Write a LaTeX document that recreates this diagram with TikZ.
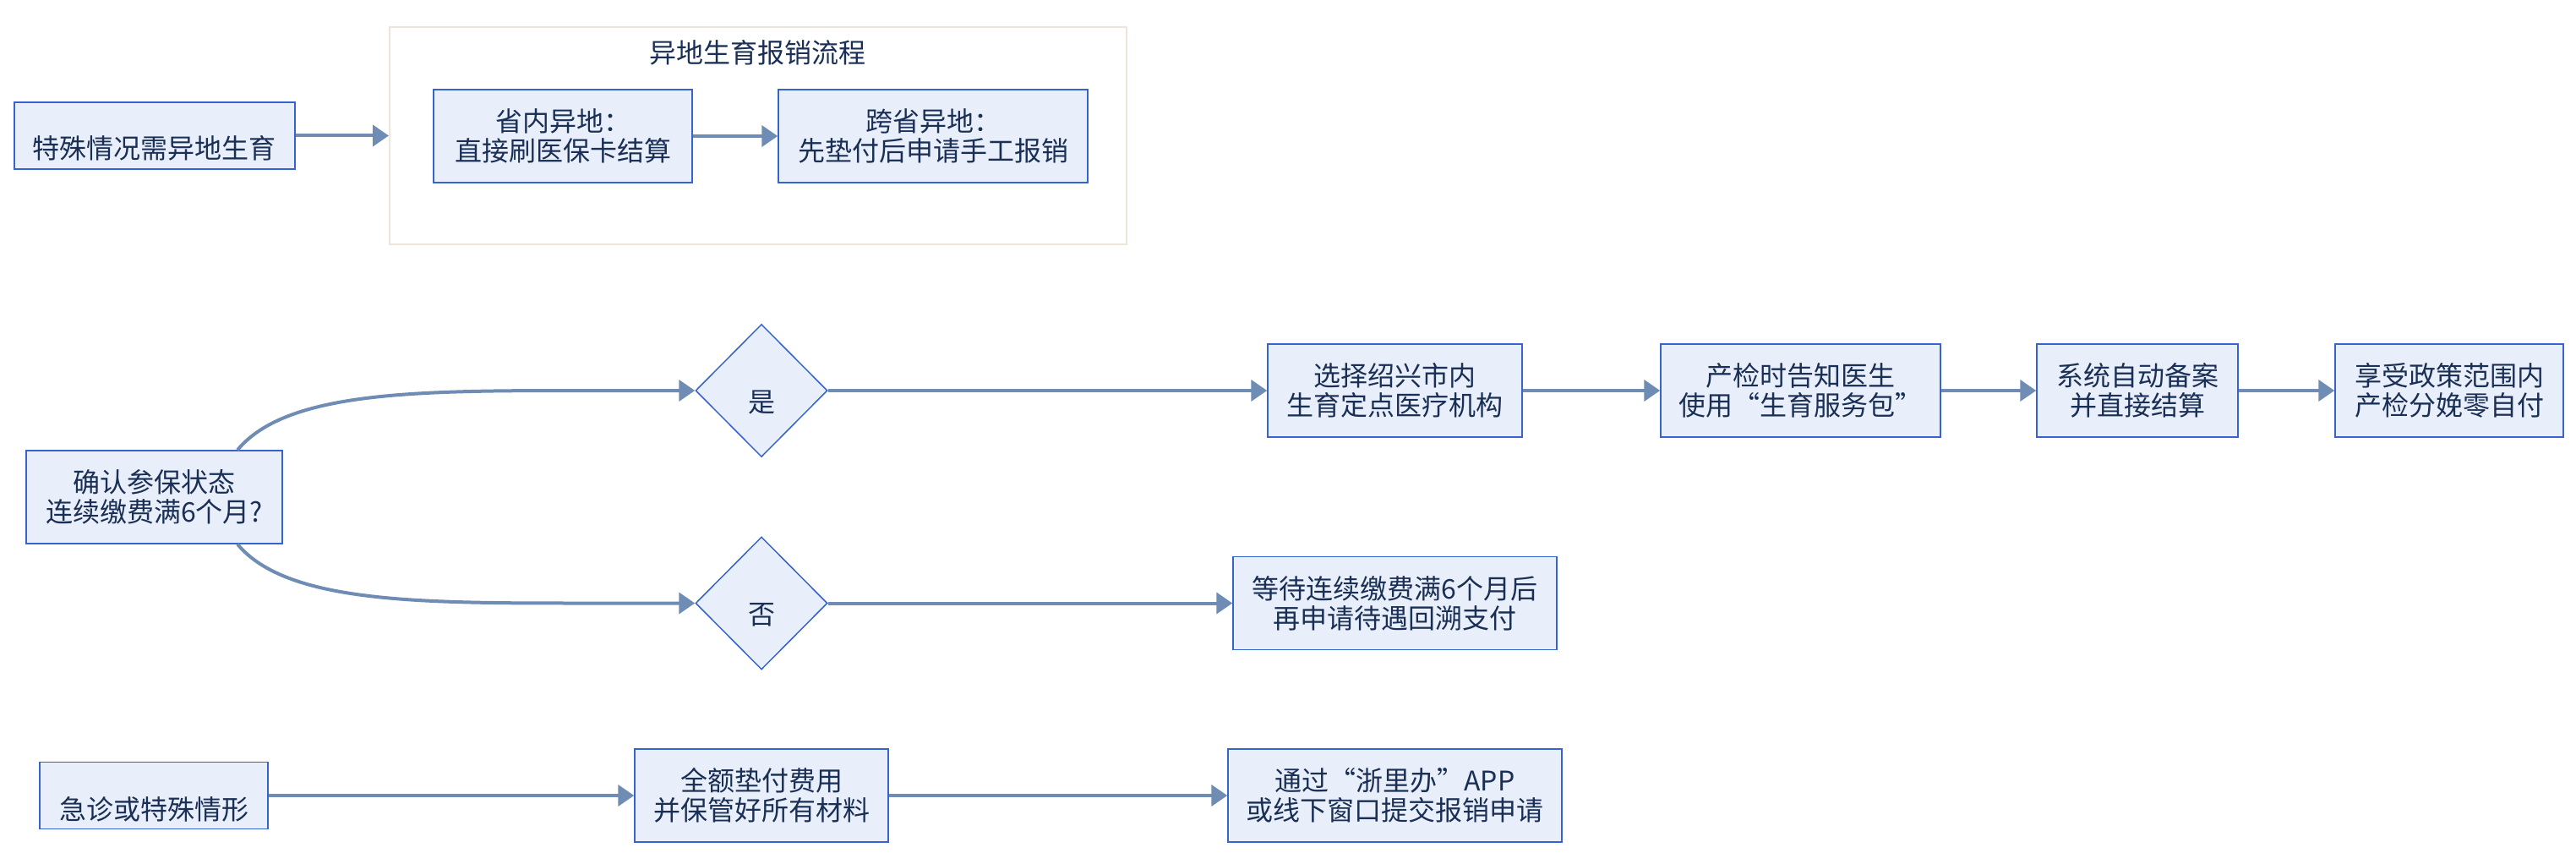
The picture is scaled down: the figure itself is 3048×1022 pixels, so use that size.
\documentclass[tikz,border=0pt]{standalone}
\usepackage{fontspec}
\setmainfont{Noto Sans CJK SC}
\usetikzlibrary{arrows.meta,calc,shapes.geometric}
\definecolor{boxfill}{HTML}{E9EFFA}
\definecolor{boxline}{HTML}{3763CC}
\definecolor{arr}{HTML}{6F8CB4}
\definecolor{txtc}{HTML}{1A2F55}
\definecolor{contline}{HTML}{EDE5DA}
\tikzset{
  lbl/.style={text=txtc, align=center, inner sep=0pt, font=\fontsize{16pt}{17.5pt}\selectfont},
  box/.style={lbl, rectangle, draw=boxline, fill=boxfill, line width=0.75pt},
  dia/.style={diamond, draw=boxline, fill=boxfill, line width=0.75pt, inner sep=0pt, minimum width=78pt, minimum height=78.5pt},
  cont/.style={rectangle, draw=contline, line width=1pt, inner sep=0pt},
  conn/.style={draw=arr, line width=2pt, -{Triangle[length=9.5pt,width=12.5pt]}},
}
\begin{document}
\begin{tikzpicture}[x=0.5pt,y=-0.5pt]
\useasboundingbox (0,0) rectangle (3048,1022);
% top group
\node[cont, minimum width=436pt, minimum height=128.5pt] (cont) at (897,160.5) {};
\node[lbl] (title) at (896,62) {异地生育报销流程};
\node[box, minimum width=166pt, minimum height=39.5pt] (b1) at (183,160.5) {};
\node[lbl] (b1t) at ($(b1.center)+(0,15)$) {特殊情况需异地生育};
\node[box, minimum width=153pt, minimum height=55pt] (sn) at (666,161) {省内异地：\\直接刷医保卡结算};
\node[box, minimum width=183pt, minimum height=55pt] (kx) at (1104,161) {跨省异地：\\先垫付后申请手工报销};
\draw[conn] (b1.east) -- (b1.east -| cont.west);
\draw[conn] (sn) -- (kx);
% middle group
\node[box, minimum width=151.5pt, minimum height=55pt] (chk) at (182.5,588) {确认参保状态\\连续缴费满6个月?};
\node[dia] (yes) at (901,462) {};
\node[lbl] (yest) at ($(yes.center)+(0,14)$) {是};
\node[dia] (no) at (901,713.5) {};
\node[lbl] (not) at ($(no.center)+(0,14)$) {否};
\node[box, minimum width=150.5pt, minimum height=55pt] (m1) at (1650.5,462) {选择绍兴市内\\生育定点医疗机构};
\node[box, minimum width=165.5pt, minimum height=55pt] (m2) at (2130.5,462) {产检时告知医生\\使用“生育服务包”};
\node[box, minimum width=119pt, minimum height=55pt] (m3) at (2529,462) {系统自动备案\\并直接结算};
\node[box, minimum width=135pt, minimum height=55pt] (m4) at (2898,462) {享受政策范围内\\产检分娩零自付};
\node[box, minimum width=191.5pt, minimum height=55pt] (wait) at (1650.5,713.5) {等待连续缴费满6个月后\\再申请待遇回溯支付};
\draw[conn] ($(chk.north)+(98.5,0)$) .. controls ($(chk.north)+(157.5,-71)$) and ($(yes.west)+(-323,0)$) .. ($(yes.west)+(-123,0)$) -- (yes.west);
\draw[conn] ($(chk.south)+(98.5,0)$) .. controls ($(chk.south)+(157.5,70.5)$) and ($(no.west)+(-323,0)$) .. ($(no.west)+(-123,0)$) -- (no.west);
\draw[conn] (yes) -- (m1);
\draw[conn] (m1) -- (m2);
\draw[conn] (m2) -- (m3);
\draw[conn] (m3) -- (m4);
\draw[conn] (no) -- (wait);
% bottom group
\node[box, minimum width=135pt, minimum height=39.5pt] (e1) at (182,941) {};
\node[lbl] (e1t) at ($(e1.center)+(0,16)$) {急诊或特殊情形};
\node[box, minimum width=150pt, minimum height=55pt] (e2) at (901,941) {全额垫付费用\\并保管好所有材料};
\node[box, minimum width=197.5pt, minimum height=55pt] (e3) at (1650.5,941) {通过“浙里办”APP\\或线下窗口提交报销申请};
\draw[conn] (e1) -- (e2);
\draw[conn] (e2) -- (e3);
\end{tikzpicture}
\end{document}
